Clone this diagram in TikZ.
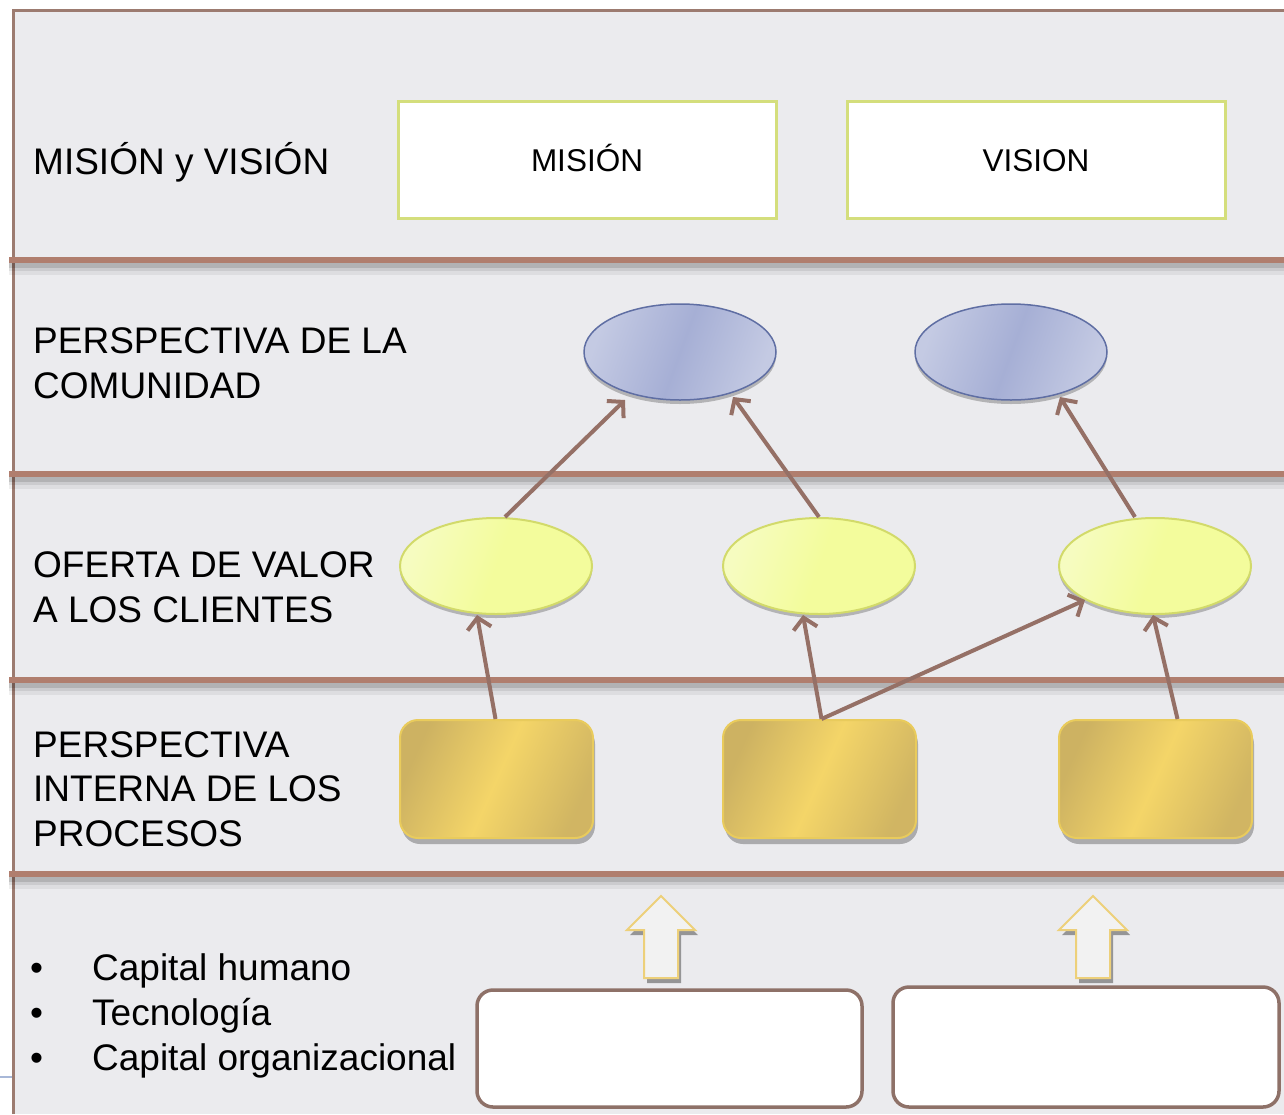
\documentclass[tikz,border=0pt]{standalone}
\usepackage{fontspec}
\setmainfont{Liberation Sans}
\usetikzlibrary{shapes.geometric,arrows.meta,shadows,calc}
\definecolor{bgc}{HTML}{EBEBEE}
\definecolor{framec}{HTML}{9C7B70}
\definecolor{sepc}{HTML}{B07E6E}
\definecolor{boxgreen}{HTML}{D4DE7C}
\definecolor{blueline}{HTML}{5F6EA3}
\definecolor{bluefillA}{HTML}{C4CAE3}
\definecolor{bluefillB}{HTML}{A6AFD5}
\definecolor{yelline}{HTML}{D2DA6A}
\definecolor{yelfillA}{HTML}{F6FCC0}
\definecolor{yelfillB}{HTML}{F3FC9C}
\definecolor{goldline}{HTML}{E9CB5C}
\definecolor{goldA}{HTML}{CDB262}
\definecolor{goldB}{HTML}{F4D568}
\definecolor{connc}{HTML}{957066}
\definecolor{baseline}{HTML}{8E7168}
\definecolor{arrline}{HTML}{EDD07A}
\definecolor{strayc}{HTML}{A8B8D8}
\tikzset{
  lbl/.style={anchor=base west, inner sep=0pt, align=left, font=\fontsize{37}{44.5}\selectfont},
  whitebox/.style={rectangle, minimum width=378pt, minimum height=117pt, fill=white, draw=boxgreen, line width=3pt,
     text height=23pt, text depth=0pt, font=\fontsize{31.5}{38}\selectfont},
  blueell/.style={ellipse, minimum width=192pt, minimum height=96pt, draw=blueline, line width=1.5pt,
     left color=bluefillA, right color=bluefillA, middle color=bluefillB, shading angle=70,
     drop shadow={shadow xshift=0pt, shadow yshift=-4pt, opacity=.35, fill=black!70}},
  yelell/.style={ellipse, minimum width=192pt, minimum height=96pt, draw=yelline, line width=2pt,
     left color=yelfillA, right color=yelfillB, middle color=yelfillB, shading angle=70,
     drop shadow={shadow xshift=0pt, shadow yshift=-4pt, opacity=.35, fill=black!70}},
  goldbox/.style={rectangle, rounded corners=18pt, minimum width=193pt, minimum height=118pt, draw=goldline, line width=2pt,
     left color=goldA, right color=goldA!90!goldB, middle color=goldB, shading angle=66,
     drop shadow={shadow xshift=2pt, shadow yshift=-6pt, opacity=.4, fill=black!70}},
  basebox/.style={rectangle, rounded corners=16pt, fill=white, draw=baseline, line width=3.5pt},
  conn/.style={draw=connc, line width=4pt, -{Straight Barb[length=11pt,width=24pt]}},
  blockarrow/.style={fill=white!95!black, draw=arrline, line width=2pt,
     drop shadow={shadow xshift=3pt, shadow yshift=-5pt, opacity=.5, fill=black!75}},
}
\begin{document}
\begin{tikzpicture}[x=1pt,y=-1pt]
\fill[white] (0,0) rectangle (1284,1114);
\useasboundingbox (0,0) rectangle (1284,1114);
\fill[bgc] (13,10) rectangle (1284,1114);
\draw[framec, line width=3pt] (13,1114) -- (13,10) -- (1284,10);
\draw[strayc, line width=1.5pt] (0,1077) -- (12,1077);
% separators with shadow
\foreach \yy in {260,474,680,874}{
  \fill[black, opacity=.06] (9,\yy+3) rectangle (1284,\yy+15);
  \fill[black, opacity=.08] (9,\yy+3) rectangle (1284,\yy+11);
  \fill[black, opacity=.12] (9,\yy+3) rectangle (1284,\yy+8);
  \draw[sepc, line width=5.5pt] (9,\yy) -- (1284,\yy);
}
% left labels (anchor = baseline of last line)
\node[lbl] (lmv) at (33,174) {MISIÓN y VISIÓN};
\node[lbl] (lcom) at (33,398) {PERSPECTIVA DE LA\\COMUNIDAD};
\node[lbl] (lofe) at (33,622) {OFERTA DE VALOR\\A LOS CLIENTES};
\node[lbl] (lpro) at (33,846) {PERSPECTIVA\\INTERNA DE LOS\\PROCESOS};
\node[lbl, font=\fontsize{37}{45}\selectfont] (lcap) at (30,1070)
  {\makebox[62pt][l]{\textbullet}Capital humano\\\makebox[62pt][l]{\textbullet}Tecnología\\\makebox[62pt][l]{\textbullet}Capital organizacional};
% top boxes
\node[whitebox] (mision) at (587,160) {MISIÓN};
\node[whitebox] (vision) at (1036,160) {VISION};
% ellipses
\node[blueell] (b1) at (680,352) {};
\node[blueell] (b2) at (1011,352) {};
\node[yelell] (y1) at (496,566) {};
\node[yelell] (y2) at (819,566) {};
\node[yelell] (y3) at (1155,566) {};
% gold boxes
\node[goldbox] (g1) at (496.5,779) {};
\node[goldbox] (g2) at (819.5,779) {};
\node[goldbox] (g3) at (1155.5,779) {};
% connectors
\draw[conn] ($(y1.north)+(9,0)$) -- ($(b1.center)+(-55,48)$);
\draw[conn] (y2.north) -- ($(b1.center)+(53,45)$);
\draw[conn] ($(y3.north)+(-20,0)$) -- ($(b2.center)+(49,45)$);
\draw[conn] ($(g1.north)+(-1,0)$) -- ($(y1.center)+(-19,49)$);
\draw[conn] ($(g2.north)+(2,0)$) -- ($(y2.center)+(-16,49)$);
\draw[conn] ($(g2.north)+(2,0)$) -- ($(y3.center)+(-70,34)$);
\draw[conn] ($(g3.north)+(22,0)$) -- ($(y3.center)+(-2,49)$);
% bottom boxes
\node[basebox, minimum width=385pt, minimum height=117pt] (r1) at (669.5,1048.5) {};
\node[basebox, minimum width=386pt, minimum height=120pt] (r2) at (1086,1047) {};
% block arrows
\coordinate (a1) at (661,896);
\coordinate (a2) at (1093,896);
\foreach \c in {a1,a2}{
  \path[blockarrow] (\c) -- ++(34,34) -- ++(-17,0) -- ++(0,48) -- ++(-34,0) -- ++(0,-48) -- ++(-17,0) -- cycle;
}
\end{tikzpicture}
\end{document}
